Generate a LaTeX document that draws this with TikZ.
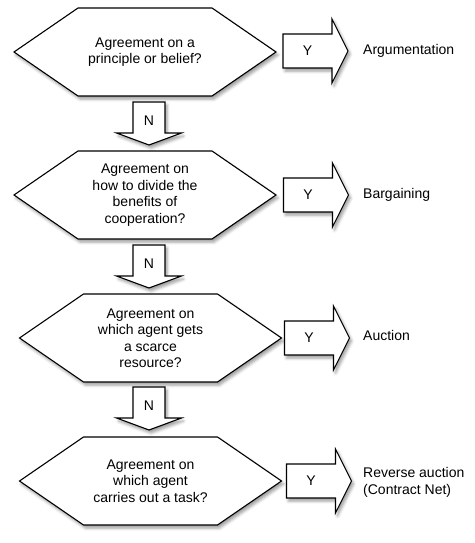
\documentclass[tikz,border=0pt]{standalone}
\usepackage{fontspec}
\setmainfont{Liberation Sans}
\usetikzlibrary{shadows.blur}

\tikzset{
  shapebox/.style={draw=black, fill=white, line width=1.1pt, line join=miter,
    blur shadow={shadow xshift=2pt, shadow yshift=-3pt, shadow blur radius=3pt}},
  qtext/.style={align=center, inner sep=0pt, font=\fontsize{14}{16.5}\selectfont},
  yn/.style={inner sep=0pt, font=\fontsize{14}{16.5}\selectfont},
  outcome/.style={anchor=mid west, align=left, inner sep=0pt, font=\fontsize{14}{17}\selectfont}
}

\begin{document}
\begin{tikzpicture}[x=1pt, y=-1pt]
  \useasboundingbox (0,0) rectangle (474,543); % page

  % row 1
  \coordinate (h1) at (145,52);
  \draw[shapebox] (h1) ++(-131,0) -- ++(64,-44) -- ++(134,0) -- ++(64,44)
                  -- ++(-64,44) -- ++(-134,0) -- cycle;
  \node[qtext] (q1) at (h1) {Agreement on a\\principle or belief?};
  \coordinate (y1) at (307.5,51);
  \draw[shapebox] (y1) ++(-24.5,-17) -- ++(49,0) -- ++(0,-15) -- ++(16,32)
                  -- ++(-16,32) -- ++(0,-15) -- ++(-49,0) -- cycle;
  \node[yn] (yes1) at (y1) {Y};
  \node[outcome] (out1) at (363,52) {Argumentation};
  \coordinate (n1) at (149,121);
  \draw[shapebox] (n1) ++(-16,-19) -- ++(32,0) -- ++(0,31) -- ++(16.5,0)
                  -- ++(-32.5,12) -- ++(-32.5,-12) -- ++(16.5,0) -- cycle;
  \node[yn] (no1) at (n1) {N};

  % row 2
  \coordinate (h2) at (145,195);
  \draw[shapebox] (h2) ++(-131,0) -- ++(64,-44) -- ++(134,0) -- ++(64,44)
                  -- ++(-64,44) -- ++(-134,0) -- cycle;
  \node[qtext] (q2) at (h2) {Agreement on\\how to divide the\\benefits of\\cooperation?};
  \coordinate (y2) at (308,195);
  \draw[shapebox] (y2) ++(-24.5,-17) -- ++(49,0) -- ++(0,-15) -- ++(16,32)
                  -- ++(-16,32) -- ++(0,-15) -- ++(-49,0) -- cycle;
  \node[yn] (yes2) at (y2) {Y};
  \node[outcome] (out2) at (363,196) {Bargaining};
  \coordinate (n2) at (149,264);
  \draw[shapebox] (n2) ++(-16,-19) -- ++(32,0) -- ++(0,31) -- ++(16.5,0)
                  -- ++(-32.5,12) -- ++(-32.5,-12) -- ++(16.5,0) -- cycle;
  \node[yn] (no2) at (n2) {N};

  % row 3
  \coordinate (h3) at (150.5,338);
  \draw[shapebox] (h3) ++(-131,0) -- ++(64,-44) -- ++(134,0) -- ++(64,44)
                  -- ++(-64,44) -- ++(-134,0) -- cycle;
  \node[qtext] (q3) at (h3) {Agreement on\\which agent gets\\a scarce\\resource?};
  \coordinate (y3) at (309,338);
  \draw[shapebox] (y3) ++(-24.5,-17) -- ++(49,0) -- ++(0,-15) -- ++(16,32)
                  -- ++(-16,32) -- ++(0,-15) -- ++(-49,0) -- cycle;
  \node[yn] (yes3) at (y3) {Y};
  \node[outcome] (out3) at (363,338) {Auction};
  \coordinate (n3) at (149,406);
  \draw[shapebox] (n3) ++(-16,-19) -- ++(32,0) -- ++(0,31) -- ++(16.5,0)
                  -- ++(-32.5,12) -- ++(-32.5,-12) -- ++(16.5,0) -- cycle;
  \node[yn] (no3) at (n3) {N};

  % row 4
  \coordinate (h4) at (150.5,481);
  \draw[shapebox] (h4) ++(-131,0) -- ++(64,-44) -- ++(134,0) -- ++(64,44)
                  -- ++(-64,44) -- ++(-134,0) -- cycle;
  \node[qtext] (q4) at (h4) {Agreement on\\which agent\\carries out a task?};
  \coordinate (y4) at (311,481);
  \draw[shapebox] (y4) ++(-24.5,-17) -- ++(49,0) -- ++(0,-15) -- ++(16,32)
                  -- ++(-16,32) -- ++(0,-15) -- ++(-49,0) -- cycle;
  \node[yn] (yes4) at (y4) {Y};
  \node[outcome, anchor=west] (out4) at (363,482) {Reverse auction\\(Contract Net)};
\end{tikzpicture}
\end{document}
